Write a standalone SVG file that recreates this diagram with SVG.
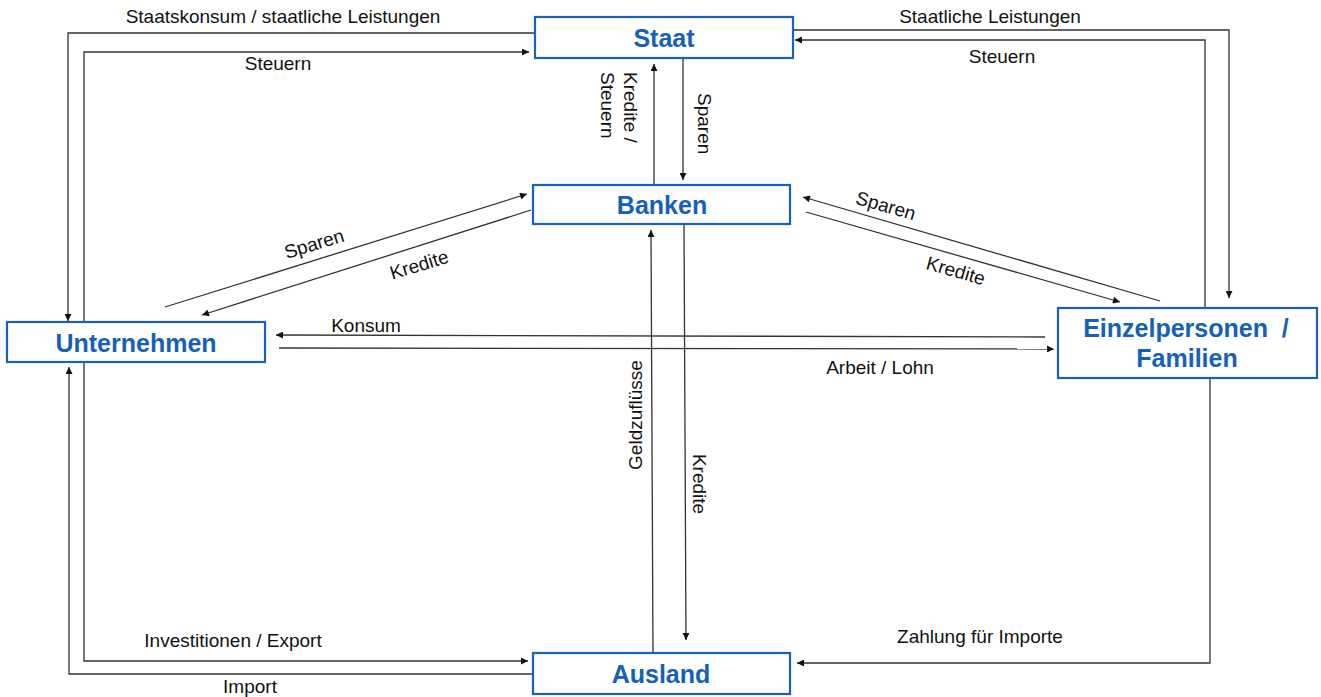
<svg xmlns="http://www.w3.org/2000/svg" width="1321" height="697" viewBox="0 0 1321 697">
<style>
.box{fill:#fff;stroke:#1a62b8;stroke-width:2.2}
.bt{font-family:"Liberation Sans",Arial,sans-serif;font-weight:bold;font-size:25px;fill:#1560bd;text-anchor:middle}
.c{fill:none;stroke:#333;stroke-width:1.3}
.lb{font-family:"Liberation Sans",Arial,sans-serif;font-size:19px;fill:#111;text-anchor:middle}
.ls{font-family:"Liberation Sans",Arial,sans-serif;font-size:19px;fill:#111;text-anchor:start}
</style>
<defs>
<marker id="ah" viewBox="0 0 10 10" refX="10" refY="5" markerWidth="9" markerHeight="7" markerUnits="userSpaceOnUse" orient="auto">
<path d="M0,0 L10,5 L0,10 z" fill="#111"/>
</marker>
</defs>
<rect width="1321" height="697" fill="#fff"/>
<g id="connectors">
<path class="c" d="M540,33 H68 V321" marker-end="url(#ah)"/>
<path class="c" d="M84,322 V52 H529" marker-end="url(#ah)"/>
<path class="c" d="M790,30 H1229 V298" marker-end="url(#ah)"/>
<path class="c" d="M1205,308 V40 H795" marker-end="url(#ah)"/>
<path class="c" d="M683,58 V180" marker-end="url(#ah)"/>
<path class="c" d="M654,185 V64" marker-end="url(#ah)"/>
<path class="c" d="M165,307 L527,194" marker-end="url(#ah)"/>
<path class="c" d="M531,210 L202,315" marker-end="url(#ah)"/>
<path class="c" d="M1160,301 L803,197" marker-end="url(#ah)"/>
<path class="c" d="M806,212 L1120,302" marker-end="url(#ah)"/>
<path class="c" d="M1045,337 L276,335" marker-end="url(#ah)"/>
<path class="c" d="M279,348 L1054,349" marker-end="url(#ah)"/>
<path class="c" d="M653,653 L651,230" marker-end="url(#ah)"/>
<path class="c" d="M684,224 L686,640" marker-end="url(#ah)"/>
<path class="c" d="M1210,378 V663 H797" marker-end="url(#ah)"/>
<path class="c" d="M84,362 V661 H528" marker-end="url(#ah)"/>
<path class="c" d="M533,674 H69 V367" marker-end="url(#ah)"/>
<text class="lb" x="283" y="23">Staatskonsum / staatliche Leistungen</text>
<text class="lb" x="278" y="70">Steuern</text>
<text class="lb" x="990" y="23">Staatliche Leistungen</text>
<text class="lb" x="1002" y="63">Steuern</text>
<text class="ls" transform="translate(624,72) rotate(90)">Kredite /</text>
<text class="ls" transform="translate(601,72) rotate(90)">Steuern</text>
<text class="ls" transform="translate(698,93) rotate(90)">Sparen</text>
<text class="lb" transform="translate(316,250) rotate(-17)">Sparen</text>
<text class="lb" transform="translate(421,271) rotate(-17)">Kredite</text>
<text class="lb" transform="translate(884,212) rotate(16)">Sparen</text>
<text class="lb" transform="translate(954,277) rotate(16)">Kredite</text>
<text class="lb" x="366" y="332">Konsum</text>
<text class="lb" x="880" y="374">Arbeit / Lohn</text>
<text class="lb" transform="translate(642,415) rotate(-90)">Geldzuflüsse</text>
<text class="lb" transform="translate(693,484) rotate(90)">Kredite</text>
<text class="lb" x="233" y="647">Investitionen / Export</text>
<text class="lb" x="250" y="693">Import</text>
<text class="lb" x="980" y="643">Zahlung für Importe</text>
</g>
<g id="staat">
<rect class="box" x="535" y="17" width="258" height="41"/>
<text class="bt" x="664" y="47">Staat</text>
</g>
<g id="banken">
<rect class="box" x="533" y="185" width="257" height="39"/>
<text class="bt" x="662" y="214">Banken</text>
</g>
<g id="unternehmen">
<rect class="box" x="7" y="322" width="258" height="40"/>
<text class="bt" x="136" y="352">Unternehmen</text>
</g>
<g id="einzelpersonen">
<rect class="box" x="1058" y="308" width="259" height="70"/>
<text class="bt" x="1186" y="337" xml:space="preserve">Einzelpersonen  /</text>
<text class="bt" x="1187" y="367">Familien</text>
</g>
<g id="ausland">
<rect class="box" x="533" y="653" width="257" height="41"/>
<text class="bt" x="661" y="683">Ausland</text>
</g>
</svg>
